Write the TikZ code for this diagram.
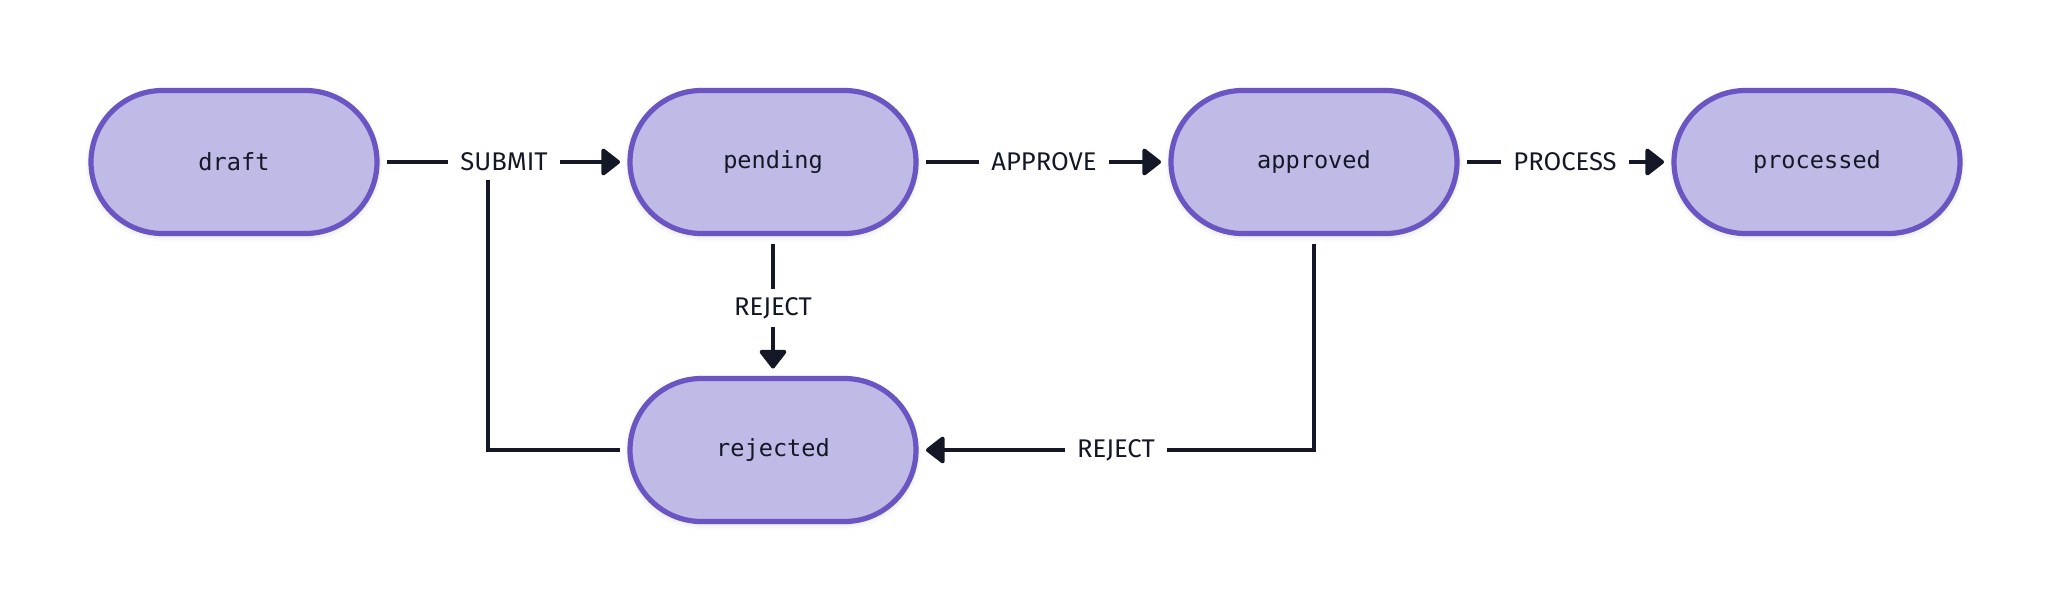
\documentclass[tikz,border=0pt]{standalone}
\usepackage{fontspec}
\setmainfont{Fira Sans}
\newfontfamily\statefont{DejaVu Sans Mono}
\usetikzlibrary{arrows.meta, shadows.blur}

\definecolor{statefill}{HTML}{C0BAE6}
\definecolor{stateline}{HTML}{6B55C2}
\definecolor{edgeink}{HTML}{141826}

\tikzset{
  state/.style={rectangle, draw=stateline, fill=statefill, line width=2.6pt,
    rounded corners=35.75pt, minimum width=143pt, minimum height=71.5pt,
    outer sep=5pt, text=edgeink, font=\statefont\fontsize{11.8}{14}\selectfont,
    blur shadow={shadow xshift=0pt, shadow yshift=-1pt, shadow blur radius=3pt, shadow opacity=18}},
  event/.style={text=edgeink, inner xsep=6pt, inner ysep=4pt,
    font=\fontsize{12.8}{15}\selectfont},
  flow/.style={draw=edgeink, line width=2pt},
  goes/.style={flow, -{Triangle[width=15pt, length=10pt, round]}}
}

\begin{document}
\begin{tikzpicture}[x=1pt, y=1pt]
  \useasboundingbox (0,0) rectangle (1026,-306);

  % states
  \node[state] (draft)     at (117,-81)   {draft};
  \node[state] (pending)   at (386.5,-81) {pending};
  \node[state] (approved)  at (657,-81)   {approved};
  \node[state] (processed) at (908.5,-81) {processed};
  \node[state] (rejected)  at (386.5,-225) {rejected};

  % events
  \node[event] (submit)  at (252,-81)    {SUBMIT};
  \node[event] (approve) at (522,-81)    {APPROVE};
  \node[event] (process) at (782.5,-81)  {PROCESS};
  \node[event] (rejectP) at (386.5,-154) {REJECT};
  \node[event] (rejectA) at (558,-225)   {REJECT};

  % transitions
  \draw[flow] (draft) -- (submit);
  \draw[goes] (submit) -- (pending);
  \draw[flow] (rejected.west) -| ([xshift=-8pt]submit.south);
  \draw[flow] (pending) -- (rejectP);
  \draw[goes] (rejectP) -- (rejected);
  \draw[flow] (pending) -- (approve);
  \draw[goes] (approve) -- (approved);
  \draw[flow] (approved) -- (process);
  \draw[goes] (process) -- (processed);
  \draw[flow] (approved.south) |- (rejectA.east);
  \draw[goes] (rejectA) -- (rejected);
\end{tikzpicture}
\end{document}
